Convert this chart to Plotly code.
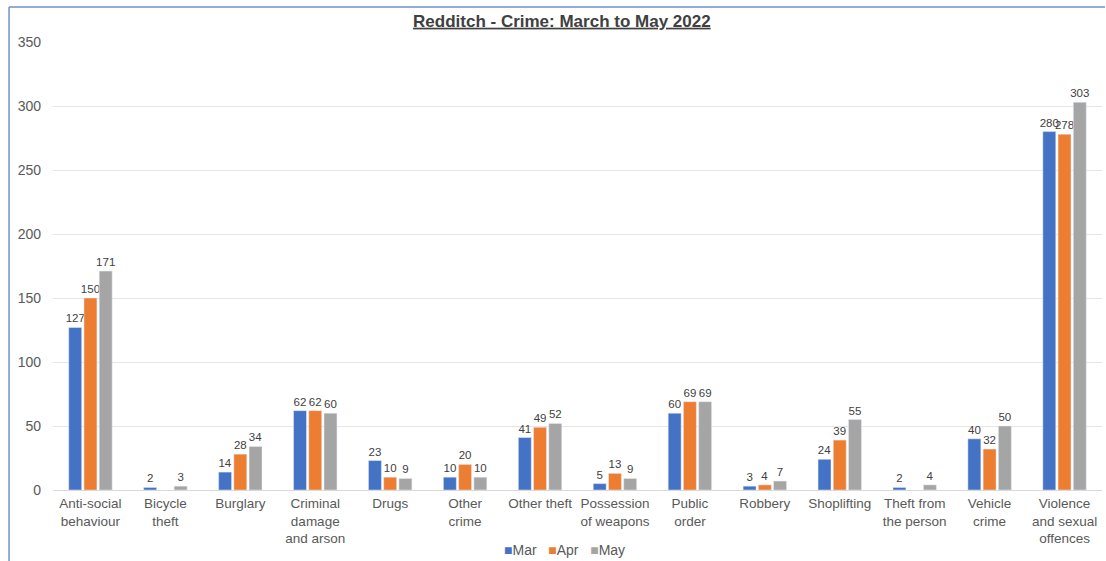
import plotly.graph_objects as go

categories = ["Anti-social<br>behaviour", "Bicycle<br>theft", "Burglary", "Criminal<br>damage<br>and arson",
              "Drugs", "Other<br>crime", "Other theft", "Possession<br>of weapons", "Public<br>order",
              "Robbery", "Shoplifting", "Theft from<br>the person", "Vehicle<br>crime",
              "Violence<br>and sexual<br>offences"]
mar = [127, 2, 14, 62, 23, 10, 41, 5, 60, 3, 24, 2, 40, 280]
apr = [150, None, 28, 62, 10, 20, 49, 13, 69, 4, 39, None, 32, 278]
may = [171, 3, 34, 60, 9, 10, 52, 9, 69, 7, 55, 4, 50, 303]
series = [("Mar", mar, "#4472C4"), ("Apr", apr, "#ED7D31"), ("May", may, "#A5A5A5")]
y_ticks = [0, 50, 100, 150, 200, 250, 300, 350]

fig = go.Figure()
for name, vals, col in series:
    fig.add_trace(go.Bar(
        x=categories, y=vals, name=name, marker_color=col,
        text=[("" if v is None else str(v)) for v in vals],
        textposition="outside", textfont=dict(size=11.5, color="#404040"),
        constraintext="none", cliponaxis=False, showlegend=False,
    ))

# compact legend (symbol directly before label, as in the reference)
legend_text = "&nbsp;&nbsp;&nbsp;".join(
    f"<span style='color:{col}'>■</span>{name}" for name, _, col in series)
fig.add_annotation(text=legend_text, xref="paper", yref="paper",
                   x=0.488, y=-0.134, xanchor="center", yanchor="middle", showarrow=False,
                   font=dict(size=14, color="#595959"))

fig.update_layout(
    width=1106, height=561,
    margin=dict(l=53, r=4, t=42, b=71),
    paper_bgcolor="white", plot_bgcolor="white",
    font=dict(family="Liberation Sans, Arial, sans-serif", color="#595959", size=13.5),
    title=dict(text="<b><u>Redditch - Crime: March to May 2022</u></b>",
               x=0.508, xref="container", y=0.963, yref="container",
               xanchor="center", yanchor="middle",
               font=dict(size=17, color="#404040")),
    barmode="group", bargap=0.39, bargroupgap=0.15,
    showlegend=False,
    xaxis=dict(showline=True, linecolor="#d9d9d9", linewidth=1, ticks="", tickfont=dict(size=13.5),
               automargin=False, ticklabelstandoff=1),
    yaxis=dict(range=[0, 350], tickvals=y_ticks, showgrid=True, gridcolor="#e6e6e6",
               zeroline=False, tickfont=dict(size=14), ticklabelstandoff=11, automargin=False),
)
fig.add_shape(type="line", xref="paper", yref="paper", x0=-0.0419, x1=-0.0419, y0=1.078, y1=-0.25,
              line=dict(color="#6f8fcf", width=1.5))
fig.add_shape(type="line", xref="paper", yref="paper", x0=-0.0419, x1=1.0029, y0=1.078, y1=1.078,
              line=dict(color="#6f8fcf", width=1.5))
fig.write_html("out.html")
